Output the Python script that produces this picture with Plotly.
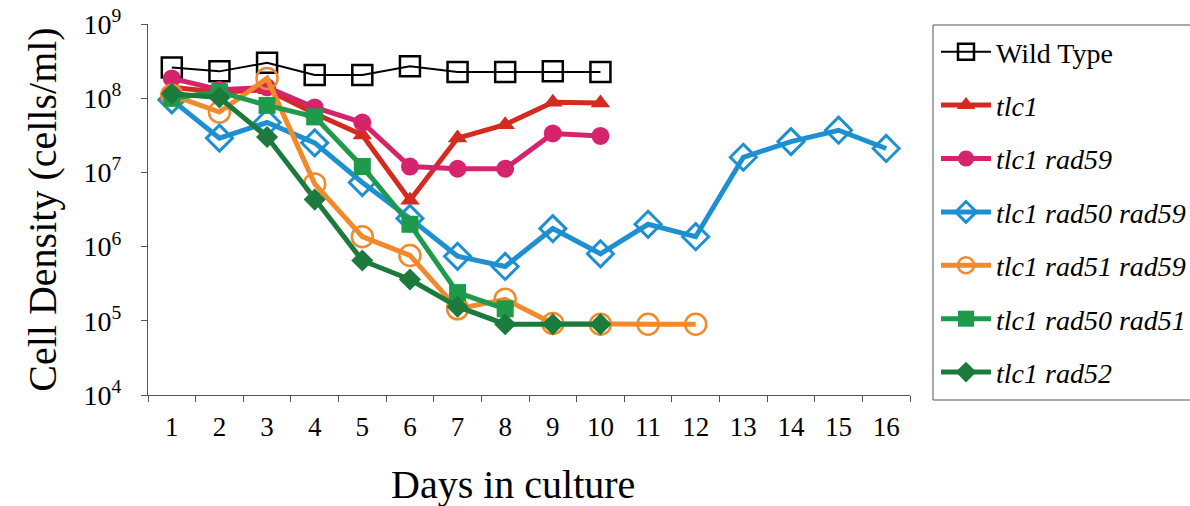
import plotly.graph_objects as go

days_wt = [1, 2, 3, 4, 5, 6, 7, 8, 9, 10]
wild_type = [2.6e8, 2.3e8, 3.0e8, 2.05e8, 2.05e8, 2.7e8, 2.25e8, 2.25e8, 2.3e8, 2.25e8]

days_tlc1 = [1, 2, 3, 4, 5, 6, 7, 8, 9, 10]
tlc1 = [1.4e8, 1.2e8, 1.3e8, 6.2e7, 3.2e7, 4.2e6, 2.9e7, 4.4e7, 8.8e7, 8.6e7]

days_r59 = [1, 2, 3, 4, 5, 6, 7, 8, 9, 10]
tlc1_rad59 = [1.85e8, 1.3e8, 1.4e8, 7.5e7, 4.7e7, 1.2e7, 1.12e7, 1.12e7, 3.35e7, 3.1e7]

days_r50r59 = list(range(1, 17))
tlc1_rad50_rad59 = [9.5e7, 2.9e7, 4.7e7, 2.5e7, 7.3e6, 2.4e6, 7.4e5, 5.4e5, 1.75e6, 8.0e5,
                    2.0e6, 1.36e6, 1.6e7, 2.6e7, 3.7e7, 2.1e7]

days_r51r59 = list(range(1, 13))
tlc1_rad51_rad59 = [1.1e8, 6.5e7, 1.85e8, 7.0e6, 1.36e6, 7.6e5, 1.45e5, 1.95e5, 9.2e4, 9.0e4,
                    9.0e4, 9.0e4]

days_r50r51 = [1, 2, 3, 4, 5, 6, 7, 8]
tlc1_rad50_rad51 = [1.0e8, 1.22e8, 8.0e7, 5.6e7, 1.2e7, 2.0e6, 2.4e5, 1.45e5]

days_r52 = [1, 2, 3, 4, 5, 6, 7, 8, 9, 10]
tlc1_rad52 = [1.15e8, 1.02e8, 3.0e7, 4.3e6, 6.5e5, 3.6e5, 1.55e5, 9.0e4, 9.0e4, 9.0e4]

y_tickvals = [1e4, 1e5, 1e6, 1e7, 1e8, 1e9]
y_ticktext = ["10<sup>4</sup>", "10<sup>5</sup>", "10<sup>6</sup>", "10<sup>7</sup>",
              "10<sup>8</sup>", "10<sup>9</sup>"]
x_tickvals = list(range(1, 17))
x_ticktext = [str(d) for d in x_tickvals]

SERIF = "Liberation Serif"

series = [
    ("Wild Type", days_wt, wild_type, "black", 2, "square-open", 20, 2.5),
    ("<i>tlc1</i>", days_tlc1, tlc1, "#d42a1f", 5, "triangle-up", 17, 0),
    ("<i>tlc1 rad59</i>", days_r59, tlc1_rad59, "#d6246c", 5, "circle", 18, 0),
    ("<i>tlc1 rad50 rad59</i>", days_r50r59, tlc1_rad50_rad59, "#1e8fd0", 5, "diamond-open", 20, 3),
    ("<i>tlc1 rad51 rad59</i>", days_r51r59, tlc1_rad51_rad59, "#f08a2c", 5, "circle-open", 21, 2.5),
    ("<i>tlc1 rad50 rad51</i>", days_r50r51, tlc1_rad50_rad51, "#1f9a4a", 5, "square", 17, 0),
    ("<i>tlc1 rad52</i>", days_r52, tlc1_rad52, "#1b7a3c", 5, "diamond", 17, 0),
]

fig = go.Figure()
for i, (name, xs, ys, color, lw, sym, msize, mlw) in enumerate(series):
    marker = dict(symbol=sym, size=msize, color=color)
    if mlw:
        marker["line"] = dict(color=color, width=mlw)
    fig.add_trace(go.Scatter(
        x=xs, y=ys, name=name, mode="lines+markers",
        line=dict(color=color, width=lw),
        marker=marker, legendgroup=f"g{i}",
    ))

W, H = 1190, 506
L, R, T, B = 148, 1190 - 910, 24, 506 - 395
pw = W - L - R
ph = H - T - B

def px_x(p):
    return (p - L) / pw

def px_y(p):
    return (H - B - p) / ph

fig.update_layout(
    width=W, height=H,
    margin=dict(l=L, r=R, t=T, b=B, autoexpand=False),
    paper_bgcolor="white", plot_bgcolor="white",
    font=dict(family=SERIF, color="black"),
    showlegend=True,
    legend=dict(
        x=px_x(936), y=px_y(27), xanchor="left", yanchor="top",
        font=dict(family=SERIF, size=28, color="black"),
        bgcolor="rgba(0,0,0,0)", borderwidth=0,
        tracegroupgap=14, itemwidth=50,
    ),
    shapes=[dict(
        type="rect", xref="paper", yref="paper",
        x0=px_x(933), x1=px_x(1200), y0=px_y(400), y1=px_y(25),
        line=dict(color="#555", width=1), fillcolor="rgba(0,0,0,0)",
    )],
    annotations=[dict(
        text="Days in culture", xref="paper", yref="paper",
        x=px_x(513), y=px_y(484), xanchor="center", yanchor="middle",
        showarrow=False, font=dict(family=SERIF, size=40, color="black"),
    )],
)

fig.update_xaxes(
    range=[0.5, 16.5], tickmode="array", tickvals=x_tickvals, ticktext=x_ticktext,
    ticks="", showgrid=False, zeroline=False,
    showline=True, linecolor="#555", linewidth=1,
    tickfont=dict(family=SERIF, size=27, color="black"),
    ticklabelstandoff=8,
    minor=dict(tick0=0.5, dtick=1, ticks="outside", ticklen=6, tickcolor="#555", showgrid=False),
)
fig.update_yaxes(
    type="log", range=[4, 9], tickmode="array", tickvals=y_tickvals, ticktext=y_ticktext,
    ticks="outside", ticklen=6, tickcolor="#555",
    showgrid=False, zeroline=False,
    showline=True, linecolor="#555", linewidth=1,
    tickfont=dict(family=SERIF, size=28, color="black"),
    ticklabelstandoff=14,
    title=dict(text="Cell Density (cells/ml)", font=dict(family=SERIF, size=40, color="black"),
               standoff=14),
)

fig.write_html("out.html", config={"displayModeBar": False},
               post_script="document.body.style.margin='0px';")
